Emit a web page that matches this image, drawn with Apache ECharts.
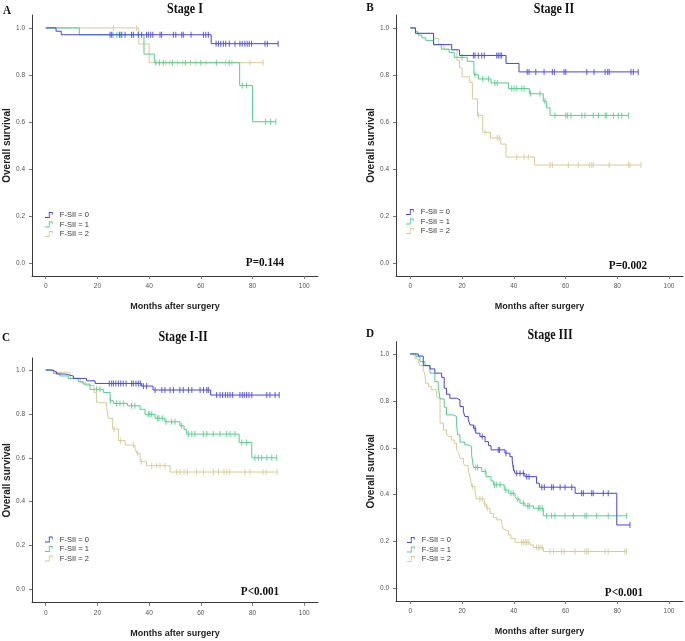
<!DOCTYPE html>
<html>
<head>
<meta charset="utf-8">
<script src="https://cdn.jsdelivr.net/npm/echarts@6/dist/echarts.min.js"></script>
<style>html,body{margin:0;padding:0;background:#fff}#c{width:685px;height:641px}</style>
</head>
<body>
<div id="c"></div>
<script>
// ---------- DATA ----------
const GROUPS = ['F-SII = 0', 'F-SII = 1', 'F-SII = 2'];
const TITLES = ['Stage I', 'Stage II', 'Stage I-II', 'Stage III'];
const LETTERS = ['A', 'B', 'C', 'D'];
const PVALUES = ['P=0.144', 'P=0.002', 'P<0.001', 'P<0.001'];
const X_TICKS = [0, 20, 40, 60, 80, 100];
const Y_TICKS = [0, 0.2, 0.4, 0.6, 0.8, 1.0];

// Panel A: Stage I  (step = [month, survival after event])
const A0_steps = [[0,1],[4,0.986],[6,0.971],[64,0.933]];
const A0_cens = [24.9,25.5,28.5,29.4,30.7,33.2,33.9,35.8,37.1,39,39.7,40.6,41.4,44.2,44.8,49.4,50.3,52.6,53.2,56.2,61,61.9,62.9,65.9,66.8,67.7,68.7,69.6,71,73.2,75.1,76,77,77.9,78.7,79.6,84.8,85.7,89.9];
const A1_steps = [[0,1],[13,0.971],[38,0.889],[42,0.852],[75,0.755],[80,0.601]];
const A1_cens = [26,27.5,29,42.6,44,45.5,49,54,60,66,71,76,77.7,85,87,89];
const A2_steps = [[0,1],[36,0.932],[40,0.852]];
const A2_cens = [26.2,35.2,46.5,48,51,53,56,58,62,69.5,72,79,84.1];

// Panel B: Stage II
const B0_steps = [[0,1],[2,0.977],[9,0.929],[16,0.907],[19,0.883],[37,0.849],[42,0.813]];
const B0_cens = [24.4,25,26.3,27.6,28.6,33.4,34,34.7,35.3,45.2,45.9,48.5,51.7,54.9,55.7,59.4,60.1,68.2,71,75.3,76.3,76.9,85.3,86.2,88.1];
const B1_steps = [[0,1],[2,0.984],[3,0.969],[4.5,0.958],[6,0.947],[9,0.929],[12,0.91],[15,0.896],[17,0.875],[22,0.858],[24.6,0.801],[26.3,0.783],[31.2,0.766],[38,0.742],[46,0.72],[51.4,0.688],[52.7,0.66],[54,0.628]];
const B1_cens = [20,25,28,30.2,32.7,33.6,39.2,40.1,41.1,43.1,44,46.5,50.1,52,55.9,60.1,60.8,62.1,66.3,67.5,70.7,72.7,75.3,75.9,78.5,80.4,81.7,84.3];
const B2_steps = [[0,1],[2,0.977],[9,0.954],[11,0.931],[13,0.908],[18,0.862],[19,0.83],[20,0.792],[23,0.768],[24,0.698],[26,0.628],[28,0.556],[31,0.532],[35,0.506],[37,0.451],[48,0.417]];
const B2_cens = [26.3,28.9,33.6,34.4,41.1,44,45.6,54,54.9,61.1,64.9,69.2,70.1,70.7,76.9,84.3,84.9,89.2];

// Panel C: Stage I-II
const C0_steps = [[0,1],[2.3,0.992],[4.2,0.982],[7.5,0.973],[10.7,0.962],[15.8,0.951],[19.1,0.939],[37.1,0.927],[41.5,0.909],[63.8,0.886]];
const C0_cens = [24.6,25.5,26.2,27.1,28.1,29,30,31.1,33.2,33.9,34.9,35.8,36.6,37.8,39,42.3,44.9,46.1,48.1,49.4,51.9,53.2,55.2,56.5,59.7,61,62.3,62.9,66.1,67.4,68.4,69.5,70.4,71.3,72.3,75.1,76,76.8,77.7,78.6,79.7,85.5,86.7,88.7,90.3];
const C1_steps = [[0,1],[3,0.985],[5.5,0.973],[8.7,0.962],[12.6,0.947],[14.5,0.936],[17.1,0.912],[22.3,0.898],[24.9,0.86],[26.2,0.848],[31.6,0.837],[36.5,0.821],[38.4,0.798],[42.3,0.78],[46.1,0.764],[51.9,0.746],[53.5,0.728],[54.5,0.708],[74.8,0.67],[79.7,0.6]];
const C1_cens = [19.7,21,25,27.4,28.7,30,33.2,34.5,39.7,40.3,41,43.2,43.8,45.1,46.5,48.7,50,52.5,55.2,56.5,57.7,61,62.3,64.8,67.4,70,71.3,73.2,75.8,77.7,80.9,82.2,83.5,85.5,87.4,89.3];
const C2_steps = [[0,1],[3,0.99],[9.4,0.962],[13.3,0.942],[15.5,0.93],[18.7,0.897],[19.7,0.851],[23.6,0.828],[24.2,0.78],[25.9,0.731],[28.1,0.678],[30.7,0.658],[34.5,0.643],[35.2,0.62],[36.5,0.582],[39,0.564],[48.1,0.535]];
const C2_cens = [26.5,28.9,33.9,35.5,37,41,42.9,44.2,46.1,50.6,51.9,53.5,54.8,58.4,61,64.8,66.8,68.9,70,71.2,77.1,79,84,85.3,89.5];

// Panel D: Stage III
const D0_steps = [[0,1],[3.1,0.991],[5,0.95],[7.6,0.936],[9.5,0.918],[12.1,0.9],[13.1,0.854],[14,0.828],[15.3,0.811],[17.9,0.804],[19.2,0.776],[20.5,0.754],[21.1,0.733],[22.4,0.719],[23.1,0.697],[24.4,0.683],[25.3,0.662],[26.9,0.648],[28.9,0.626],[30.2,0.609],[31.2,0.591],[36.6,0.577],[38.5,0.562],[39.4,0.544],[39.8,0.513],[40.5,0.491],[44.3,0.477],[48.8,0.449],[49.9,0.432],[63.7,0.406],[79.8,0.271]];
const D0_cens = [25,27.8,34,34.5,37,39.9,41.1,42.4,43.7,45,45.9,50.8,51.8,54.6,55.3,57.9,59.8,62.4,66.2,66.9,70.1,70.7,74.6,76.5,84.9];
const D1_steps = [[0,1],[2.2,0.989],[3.7,0.967],[5.7,0.95],[7.6,0.918],[9.5,0.882],[10.8,0.861],[11.5,0.808],[13.1,0.773],[14,0.74],[16.6,0.733],[17.9,0.697],[18.3,0.655],[19.2,0.624],[21.1,0.612],[22.4,0.605],[23.7,0.57],[24.4,0.516],[27.6,0.499],[29.3,0.477],[31.2,0.459],[32.1,0.442],[36.3,0.42],[37.9,0.406],[40.5,0.392],[41.1,0.381],[42.4,0.364],[44.3,0.352],[47.6,0.342],[51.4,0.31]];
const D1_cens = [25.3,26,28.9,32.6,33.4,34.7,36.9,38.9,39.8,41.6,43.7,45.4,46,49.5,50.1,51,52.7,54.6,55.9,59.8,63,67.5,68.2,72,76.5,83.6];
const D2_steps = [[0,1],[0.5,0.993],[1.8,0.979],[3.1,0.967],[3.7,0.95],[5,0.932],[5.7,0.91],[5.9,0.875],[7,0.861],[8.2,0.847],[10.2,0.818],[10.8,0.811],[11.5,0.705],[12.8,0.676],[14,0.658],[14.7,0.648],[16,0.633],[17,0.619],[17.9,0.591],[18.6,0.581],[19.2,0.555],[20.5,0.534],[21.1,0.524],[22.4,0.501],[23.1,0.477],[23.7,0.435],[25,0.413],[25.6,0.382],[28.6,0.359],[29.5,0.342],[30.8,0.321],[32.1,0.303],[33.4,0.293],[35.3,0.278],[35.9,0.254],[36.6,0.246],[37.9,0.229],[38.9,0.214],[40.5,0.197],[46.3,0.186],[47.6,0.175],[51.4,0.158]];
const D2_cens = [24,26.9,27.8,28.8,29.7,43,43.7,44.4,45,45.6,48.8,49.5,50.1,51,54,55.3,58.5,59.5,63.7,67.5,68.2,68.8,75.3,76.5,82.9,83.6];

const STEPS = [[A0_steps,A1_steps,A2_steps],[B0_steps,B1_steps,B2_steps],[C0_steps,C1_steps,C2_steps],[D0_steps,D1_steps,D2_steps]];
const CENS = [[A0_cens,A1_cens,A2_cens],[B0_cens,B1_cens,B2_cens],[C0_cens,C1_cens,C2_cens],[D0_cens,D1_cens,D2_cens]];

// ---------- STYLE / LAYOUT ----------
const COLORS = ['#4343ef', '#52cf8c', '#d7cc94'];
const SANS = "'Liberation Sans',Arial,sans-serif";
const SERIF = "'Liberation Serif','Times New Roman',serif";
const LAYOUT = [
  {grid:{left:32, top:15, width:286, height:261}, x:[-5.3,105.3], y:[-0.055,1.055], leg:[45,211], title:[185,9], letter:[7,11], p:[265,263]},
  {grid:{left:396, top:15, width:287, height:261}, x:[-5.53,105.4], y:[-0.055,1.055], leg:[406,208], title:[554,9], letter:[370,8], p:[628,266]},
  {grid:{left:32, top:358, width:286, height:244.7}, x:[-5.3,105.3], y:[-0.061,1.055], leg:[45,535.5], title:[183,337], letter:[6,338], p:[260,592]},
  {grid:{left:396, top:341.7, width:287, height:259.3}, x:[-5.53,105.4], y:[-0.053,1.052], leg:[407,536], title:[550,335], letter:[370,334], p:[624,593]}
];
const STEP_ICON = 'path://M0,8 L6,8 L6,0 L12,0 L12,4.5 L10.7,4.5 L10.7,1.4 L7.4,1.4 L7.4,9.4 L0,9.4 Z';

function survAt(steps, t) {
  let s = steps[0][1];
  for (const [tt, v] of steps) { if (tt <= t) s = v; }
  return s;
}

const grids = [], xAxes = [], yAxes = [], series = [], legends = [], graphics = [];
LAYOUT.forEach((L, p) => {
  grids.push(Object.assign({outerBoundsMode:'none', containLabel:false}, L.grid));
  xAxes.push({
    gridIndex: p, type: 'value', min: L.x[0], max: L.x[1],
    axisLine: {show: true, onZero: false, lineStyle: {color: '#3a3a3a', width: 1}},
    axisTick: {show: true, customValues: X_TICKS, length: 3, lineStyle: {color: '#777'}},
    axisLabel: {show: true, customValues: X_TICKS, fontSize: 6.5, color: '#555', margin: 7, fontFamily: SANS},
    splitLine: {show: false},
    name: 'Months after surgery', nameLocation: 'middle', nameGap: 26,
    nameTextStyle: {fontWeight: 'bold', fontSize: 9, color: '#222', fontFamily: SANS}
  });
  yAxes.push({
    gridIndex: p, type: 'value', min: L.y[0], max: L.y[1],
    axisLine: {show: true, onZero: false, lineStyle: {color: '#3a3a3a', width: 1}},
    axisTick: {show: true, customValues: Y_TICKS, length: 3, lineStyle: {color: '#777'}},
    axisLabel: {show: true, customValues: Y_TICKS, fontSize: 6.5, color: '#555', margin: 7, fontFamily: SANS,
      formatter: v => v.toFixed(1)},
    splitLine: {show: false},
    name: 'Overall survival', nameLocation: 'middle', nameGap: 15, nameRotate: 90,
    nameTextStyle: {fontWeight: 'bold', fontSize: 10, color: '#222', fontFamily: SANS}
  });
  [2, 1, 0].forEach(g => {
    const st = STEPS[p][g], cs = CENS[p][g];
    const last = st[st.length - 1];
    const endT = Math.max(last[0], ...cs);
    series.push({
      type: 'line', name: GROUPS[g], xAxisIndex: p, yAxisIndex: p, step: 'end',
      data: st.concat([[endT, last[1]]]), showSymbol: false, symbol: 'none', silent: true,
      lineStyle: {width: 1, color: COLORS[g]}, itemStyle: {color: COLORS[g]}, z: 3 - g
    });
    series.push({
      type: 'scatter', name: 'censored ' + p + '-' + g, xAxisIndex: p, yAxisIndex: p,
      symbol: 'rect', symbolSize: [1.1, 6], silent: true,
      data: cs.map(t => [t, survAt(st, t)]), itemStyle: {color: COLORS[g]}, z: 3 - g
    });
  });
  legends.push({
    data: GROUPS.map(n => ({name: n, icon: STEP_ICON})), orient: 'vertical',
    left: L.leg[0], top: L.leg[1], itemWidth: 12, itemHeight: 6, itemGap: 1.5, padding: 0,
    selectedMode: false, textStyle: {fontSize: 7.5, color: '#333', fontFamily: SANS, lineHeight: 7}
  });
  graphics.push({type: 'text', x: L.title[0], y: L.title[1], scaleX: 0.86,
    style: {text: TITLES[p], font: 'bold 14px ' + SERIF, fill: '#111', textAlign: 'center', textVerticalAlign: 'middle'}});
  graphics.push({type: 'text', x: L.letter[0], y: L.letter[1], scaleX: 0.86,
    style: {text: LETTERS[p], font: 'bold 13px ' + SERIF, fill: '#111', textAlign: 'center', textVerticalAlign: 'middle'}});
  graphics.push({type: 'text', x: L.p[0], y: L.p[1], scaleX: 0.86,
    style: {text: PVALUES[p], font: 'bold 13px ' + SERIF, fill: '#111', textAlign: 'center', textVerticalAlign: 'middle'}});
});

const chart = echarts.init(document.getElementById('c'), null, {renderer: 'canvas'});
chart.setOption({
  backgroundColor: '#fff', animation: false,
  grid: grids, xAxis: xAxes, yAxis: yAxes, series: series, legend: legends, graphic: graphics
});
</script>
</body>
</html>
